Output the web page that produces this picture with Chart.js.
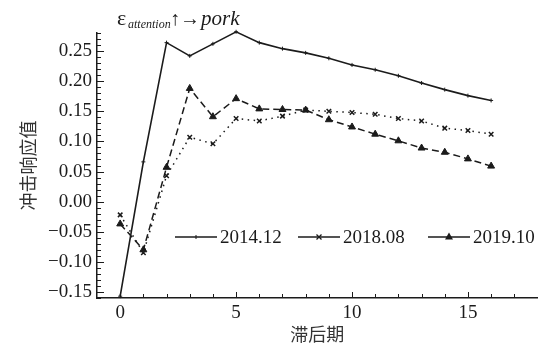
<!DOCTYPE html>
<html>
<head>
<meta charset="utf-8">
<script src="https://cdn.jsdelivr.net/npm/chart.js@4.4.1/dist/chart.umd.min.js"></script>
<style>
  html, body { margin: 0; padding: 0; background: #fff; }
  #wrap { width: 543px; height: 345px; }
</style>
</head>
<body>
<div id="wrap"><canvas id="irf-chart" width="543" height="345"></canvas></div>
<script>
// lag periods and impulse responses
const lags = [0, 1, 2, 3, 4, 5, 6, 7, 8, 9, 10, 11, 12, 13, 14, 15, 16];
const seriesNames = ["2014.12", "2018.08", "2019.10"];
const resp201412 = [-0.157, 0.066, 0.264, 0.242, 0.262, 0.282, 0.264, 0.254, 0.247, 0.238, 0.227, 0.219, 0.209, 0.197, 0.186, 0.176, 0.168];
const resp201808 = [-0.022, -0.085, 0.043, 0.107, 0.096, 0.138, 0.134, 0.142, 0.152, 0.150, 0.148, 0.145, 0.138, 0.134, 0.122, 0.118, 0.112];
const resp201910 = [-0.037, -0.080, 0.057, 0.188, 0.141, 0.171, 0.154, 0.153, 0.152, 0.136, 0.124, 0.112, 0.101, 0.089, 0.082, 0.071, 0.059];
const xMajorTicks = [0, 5, 10, 15];

const ink = "#1b1b1b";
const serif = "'Liberation Serif', 'Times New Roman', serif";

function toPoints(vals) {
    return lags.map((l, i) => ({ x: l, y: vals[i] }));
}

// kleine + grote tickjes aan de binnenkant van de assen
const axisTicks = {
    id: "axisTicks",
    afterDraw(chart) {
        const ctx = chart.ctx;
        const xs = chart.scales.x, ys = chart.scales.y;
        const a = chart.chartArea;
        ctx.save();
        ctx.strokeStyle = ink;
        ctx.lineWidth = 1;
        for (let k = -16; k <= 28; k++) {
            const py = Math.round(ys.getPixelForValue(k / 100)) + 0.5;
            const len = k % 5 === 0 ? 7 : 4;
            ctx.beginPath();
            ctx.moveTo(a.left, py);
            ctx.lineTo(a.left + len, py);
            ctx.stroke();
        }
        for (let k = 0; k <= 17; k++) {
            const px = Math.round(xs.getPixelForValue(k)) + 0.5;
            const len = xMajorTicks.includes(k) ? 6 : 4;
            ctx.beginPath();
            ctx.moveTo(px, a.bottom);
            ctx.lineTo(px, a.bottom - len);
            ctx.stroke();
        }
        ctx.restore();
    }
};

// legenda + titel in de plot
const legendAndTitle = {
    id: "legendAndTitle",
    afterDraw(chart) {
        const ctx = chart.ctx;
        ctx.save();
        ctx.fillStyle = ink;
        ctx.strokeStyle = ink;

        // titel: ε_attention ↑→ pork
        ctx.textBaseline = "alphabetic";
        ctx.font = "22px " + serif;
        ctx.fillText("\u03B5", 117, 25);
        ctx.font = "italic 12px " + serif;
        ctx.fillText("attention", 128, 28);
        ctx.font = "20px " + serif;
        ctx.fillText("\u2191\u2192", 170, 25);
        ctx.font = "italic 21px " + serif;
        ctx.fillText("pork", 201, 25);

        // legenda
        const ly = 237;
        const starts = [175, 298, 428];
        const styles = chart.data.datasets;
        ctx.font = "19px " + serif;
        ctx.textBaseline = "middle";
        starts.forEach((sx, i) => {
            ctx.lineWidth = 1.5;
            ctx.setLineDash([]);
            ctx.beginPath();
            ctx.moveTo(sx, ly);
            ctx.lineTo(sx + 42, ly);
            ctx.stroke();
            const mx = sx + 21;
            const ds = styles[i];
            if (ds.pointStyle === "triangle") {
                ctx.beginPath();
                ctx.moveTo(mx, ly - 4.5);
                ctx.lineTo(mx + 4, ly + 2.5);
                ctx.lineTo(mx - 4, ly + 2.5);
                ctx.closePath();
                ctx.fill();
            } else if (ds.pointStyle === "crossRot") {
                ctx.lineWidth = 1.3;
                ctx.beginPath();
                ctx.moveTo(mx - 2.5, ly - 2.5); ctx.lineTo(mx + 2.5, ly + 2.5);
                ctx.moveTo(mx + 2.5, ly - 2.5); ctx.lineTo(mx - 2.5, ly + 2.5);
                ctx.stroke();
            } else {
                ctx.lineWidth = 1;
                ctx.beginPath();
                ctx.moveTo(mx, ly - 2); ctx.lineTo(mx, ly + 2);
                ctx.stroke();
            }
            ctx.fillText(ds.label, sx + 45, ly + 1);
        });
        ctx.restore();
    }
};

new Chart(document.getElementById("irf-chart"), {
    type: "line",
    data: {
        datasets: [
            {
                label: seriesNames[0],
                data: toPoints(resp201412),
                borderColor: ink,
                backgroundColor: ink,
                borderWidth: 1.6,
                pointStyle: "cross",
                pointRadius: 2,
                pointBorderWidth: 1,
                tension: 0,
                clip: false
            },
            {
                label: seriesNames[1],
                data: toPoints(resp201808),
                borderColor: ink,
                backgroundColor: ink,
                borderWidth: 1.5,
                borderDash: [1.5, 4.5],
                pointStyle: "crossRot",
                pointRadius: 3.2,
                pointBorderWidth: 1.5,
                tension: 0,
                clip: false
            },
            {
                label: seriesNames[2],
                data: toPoints(resp201910),
                borderColor: ink,
                backgroundColor: ink,
                borderWidth: 1.5,
                borderDash: [7, 4],
                pointStyle: "triangle",
                pointRadius: 4,
                pointBorderWidth: 1,
                tension: 0,
                clip: false
            }
        ]
    },
    options: {
        responsive: false,
        animation: false,
        events: [],
        layout: { padding: { top: 33, right: 4, left: 0, bottom: 0 } },
        plugins: {
            legend: { display: false },
            tooltip: { enabled: false },
            title: { display: false }
        },
        scales: {
            x: {
                type: "linear",
                min: -1,
                max: 18,
                afterFit: s => { s.height = 47; },
                grid: { drawOnChartArea: false, drawTicks: false },
                border: { display: true, color: ink, width: 1.5 },
                ticks: {
                    stepSize: 1,
                    autoSkip: false,
                    maxRotation: 0,
                    padding: 4,
                    color: ink,
                    font: { family: serif, size: 19 },
                    callback: v => xMajorTicks.includes(v) ? String(v) : ""
                },
                title: {
                    display: true,
                    text: "滞后期",
                    color: "#333",
                    font: { family: "'Noto Sans CJK SC'", size: 18 },
                    padding: { top: 6, bottom: 0 }
                }
            },
            y: {
                min: -0.16,
                max: 0.28,
                afterFit: s => { s.width = 97; },
                grid: { drawOnChartArea: false, drawTicks: false },
                border: { display: true, color: ink, width: 1.5 },
                ticks: {
                    stepSize: 0.01,
                    autoSkip: false,
                    padding: 5,
                    color: ink,
                    font: { family: serif, size: 19 },
                    callback: v => {
                        const k = Math.round(v * 100);
                        if (k % 5 !== 0) return "";
                        const s = Math.abs(v).toFixed(2);
                        return k < 0 ? "\u2212" + s : s;
                    }
                },
                title: {
                    display: true,
                    text: "冲击响应值",
                    color: "#333",
                    font: { family: "'Noto Sans CJK SC'", size: 18 },
                    padding: { top: 17, bottom: 0 }
                }
            }
        }
    },
    plugins: [axisTicks, legendAndTitle]
});
</script>
</body>
</html>
